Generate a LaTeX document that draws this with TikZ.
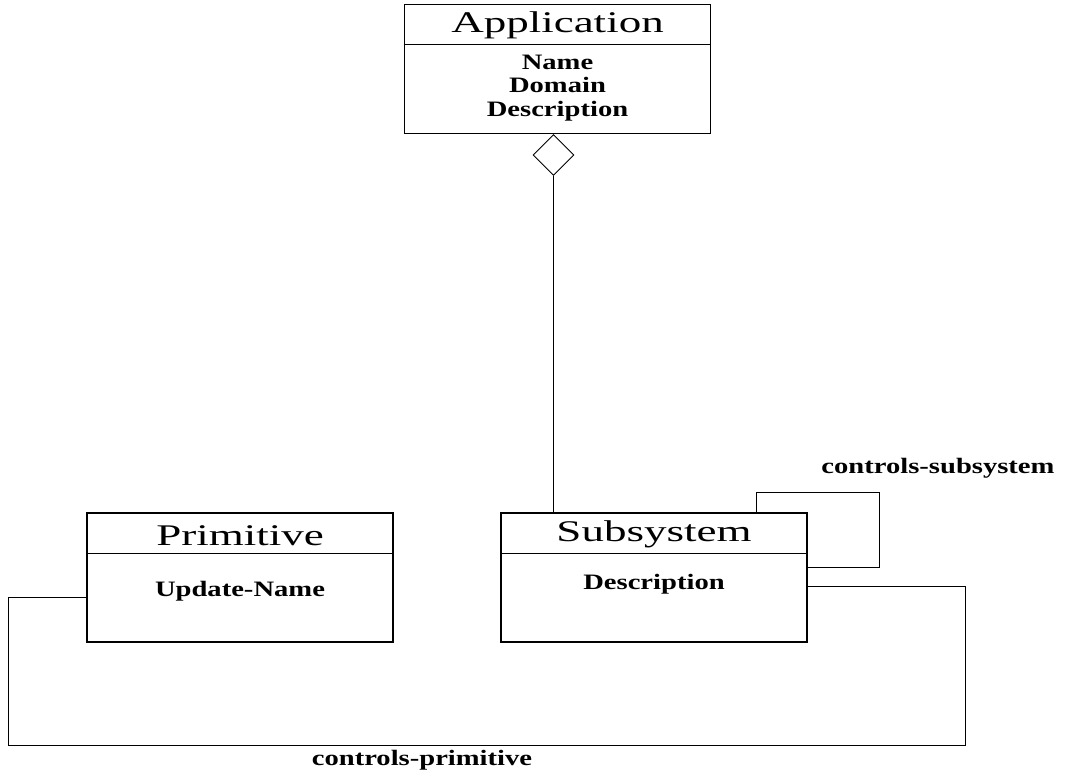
\documentclass[tikz,border=0pt]{standalone}
\usepackage{fontspec}
\newfontfamily\titlefont[FakeStretch=1.5]{Liberation Serif}
\newfontfamily\attrfont[FakeStretch=1.3]{Liberation Serif}
\usetikzlibrary{shapes.geometric}
\tikzset{
  class/.style={draw,line width=1.1pt,minimum width=306pt,minimum height=129pt,inner sep=0pt},
  title/.style={inner sep=0pt,font=\titlefont\fontsize{30}{32}\selectfont},
  attr/.style={inner sep=0pt,align=center,font=\attrfont\bfseries\fontsize{22}{23.5}\selectfont},
  agg/.style={draw,diamond,aspect=1,line width=0.9pt,minimum width=41pt,minimum height=41pt,inner sep=0pt},
  link/.style={line width=0.9pt}}
\begin{document}
\begin{tikzpicture}[x=1pt,y=-1pt]
 \useasboundingbox (0,0) rectangle (1065,784);
 \node[class] (app) at (557.5,69) {};
 \node[class] (prim) at (240,577.5) {};
 \node[class] (sub) at (654,577.5) {};
 \foreach \c in {app,prim,sub}{
 	\draw[link] ([yshift=-41pt]\c.north west) -- ([yshift=-41pt]\c.north east);}
 \node[title] (apptitle) at ([yshift=-21pt]app.north) {Application};
 \node[title] (primtitle) at ([yshift=-23pt]prim.north) {Primitive};
 \node[title] (subtitle) at ([yshift=-22pt]sub.north) {Subsystem};
 \node[attr] (appattr) at ([yshift=-84pt]app.north) {Name\\Domain\\Description};
 \node[attr] (primattr) at ([yshift=-79pt]prim.north) {Update-Name};
 \node[attr] (subattr) at ([yshift=-72pt]sub.north) {Description};
 \node[agg,anchor=north] (appagg) at ([xshift=-4pt]app.south) {};
 \draw[link] (appagg.south) -- (appagg.south |- sub.north);
 \draw[link] ([yshift=-55pt]sub.north east) -| ++(72,-75) -| ([xshift=-51pt]sub.north east);
 \node[attr] (cslabel) at (938,468) {controls-subsystem};
 \coordinate (cpR) at (965,745);
 \coordinate (cpL) at (8,745);
 \draw[link] ([yshift=-74pt]sub.north east) -| (cpR) -- (cpL) |- ([yshift=-85pt]prim.north west);
 \node[attr] (cplabel) at (422,760) {controls-primitive};
\end{tikzpicture}
\end{document}
